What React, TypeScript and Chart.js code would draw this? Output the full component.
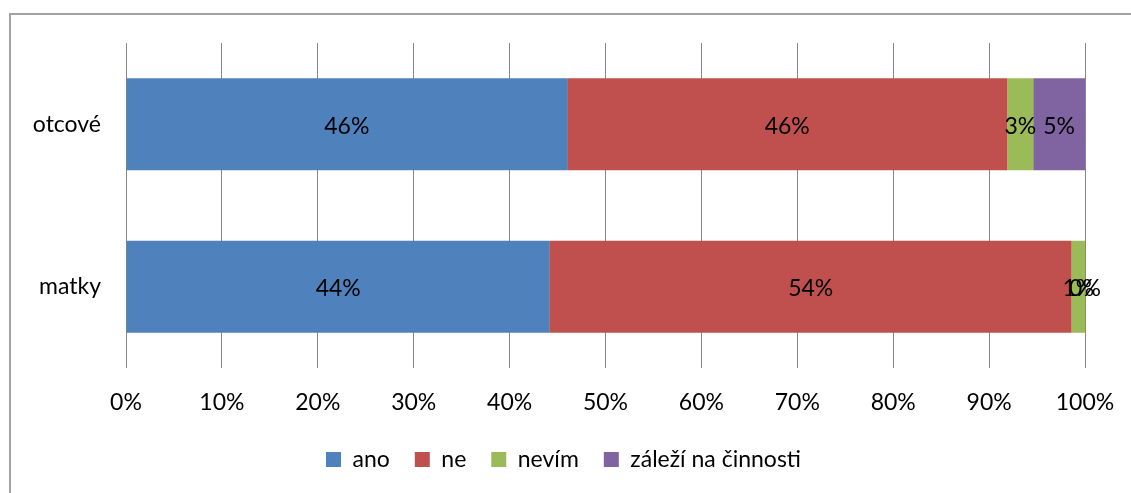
import React, { useEffect, useRef } from "react";
import { Chart, registerables } from "chart.js";

Chart.register(...registerables);

const categories = ["otcové", "matky"];
const seriesNames = ["ano", "ne", "nevím", "záleží na činnosti"];
const seriesColors = ["#4F81BD", "#C0504D", "#9BBB59", "#8064A2"];
const ano = [46.0, 44.2];
const ne = [45.9, 54.4];
const nevim = [2.7, 1.4];
const zalezi = [5.4, 0.0];
const xTicks = [0, 10, 20, 30, 40, 50, 60, 70, 80, 90, 100];

const FONT = "Lato, 'Liberation Sans', sans-serif";
const FS = 23;
const LEGEND_SHIFT = 21;

const labelPlugin = {
  id: "segLabels",
  afterDatasetsDraw(chart: any) {
    const ctx = chart.ctx;
    ctx.save();
    ctx.font = `${FS}px ${FONT}`;
    ctx.fillStyle = "#000";
    ctx.textAlign = "center";
    ctx.textBaseline = "middle";
    chart.data.datasets.forEach((ds: any, di: number) => {
      const meta = chart.getDatasetMeta(di);
      meta.data.forEach((el: any, i: number) => {
        const v = ds.data[i];
        const x = (el.x + el.base) / 2;
        ctx.fillText(Math.round(v) + "%", x, el.y + 2);
      });
    });
    ctx.restore();
  },
};

const legendShiftPlugin = {
  id: "legendShift",
  afterLayout(chart: any) {
    const lg: any = chart.legend;
    if (lg && !lg.__shifted) {
      const orig = lg.draw;
      lg.draw = function (...a: any[]) {
        const c = this.ctx;
        c.save();
        c.translate(LEGEND_SHIFT, 0);
        orig.apply(this, a);
        c.restore();
      };
      lg.__shifted = true;
    }
  },
};

export default function App() {
  const ref = useRef<HTMLCanvasElement>(null);
  useEffect(() => {
    if (!ref.current) return;
    const seriesData = [ano, ne, nevim, zalezi];
    const chart = new Chart(ref.current, {
      type: "bar",
      data: {
        labels: categories,
        datasets: seriesNames.map((n, k) => ({
          label: n,
          data: seriesData[k],
          backgroundColor: seriesColors[k],
          borderWidth: 0,
          categoryPercentage: 1,
          barPercentage: 0.566,
        })),
      },
      options: {
        indexAxis: "y",
        animation: false,
        responsive: false,
        layout: { padding: { top: 43, left: 0, right: 46, bottom: 12 } },
        plugins: {
          legend: {
            position: "bottom",
            labels: {
              boxWidth: 15,
              boxHeight: 15,
              padding: 25,
              color: "#000",
              font: { family: FONT, size: FS },
            },
          },
          tooltip: { enabled: false },
        },
        scales: {
          x: {
            stacked: true,
            min: 0,
            max: 100,
            afterBuildTicks: (scale: any) => {
              scale.ticks = xTicks.map((v) => ({ value: v }));
            },
            afterFit: (scale: any) => {
              scale.height = 55;
              scale.paddingLeft = 0;
              scale.paddingRight = 0;
            },
            ticks: {
              color: "#000",
              font: { family: FONT, size: FS },
              padding: 21,
              callback: (v: any) => v + "%",
            },
            grid: { color: "#888", lineWidth: 1, drawTicks: false },
            border: { display: false },
          },
          y: {
            stacked: true,
            afterFit: (scale: any) => {
              scale.width = 126;
              scale.paddingTop = 0;
              scale.paddingBottom = 0;
            },
            ticks: {
              color: "#000",
              font: { family: FONT, size: FS },
              padding: 17,
            },
            grid: { display: false },
            border: { display: false },
          },
        },
      },
      plugins: [labelPlugin, legendShiftPlugin],
    });
    return () => chart.destroy();
  }, []);
  return (
    <div
      style={{
        position: "fixed",
        left: 0,
        top: 0,
        width: 1131,
        height: 493,
        overflow: "hidden",
        background: "#fff",
      }}
    >
      <canvas
        ref={ref}
        width={1131}
        height={493}
        style={{ position: "absolute", left: 0, top: 0, width: 1131, height: 493 }}
      />
      <div
        style={{
          position: "absolute",
          left: 9,
          top: 13,
          width: 1200,
          height: 600,
          border: "2px solid #a3a3a3",
          pointerEvents: "none",
        }}
      />
    </div>
  );
}
